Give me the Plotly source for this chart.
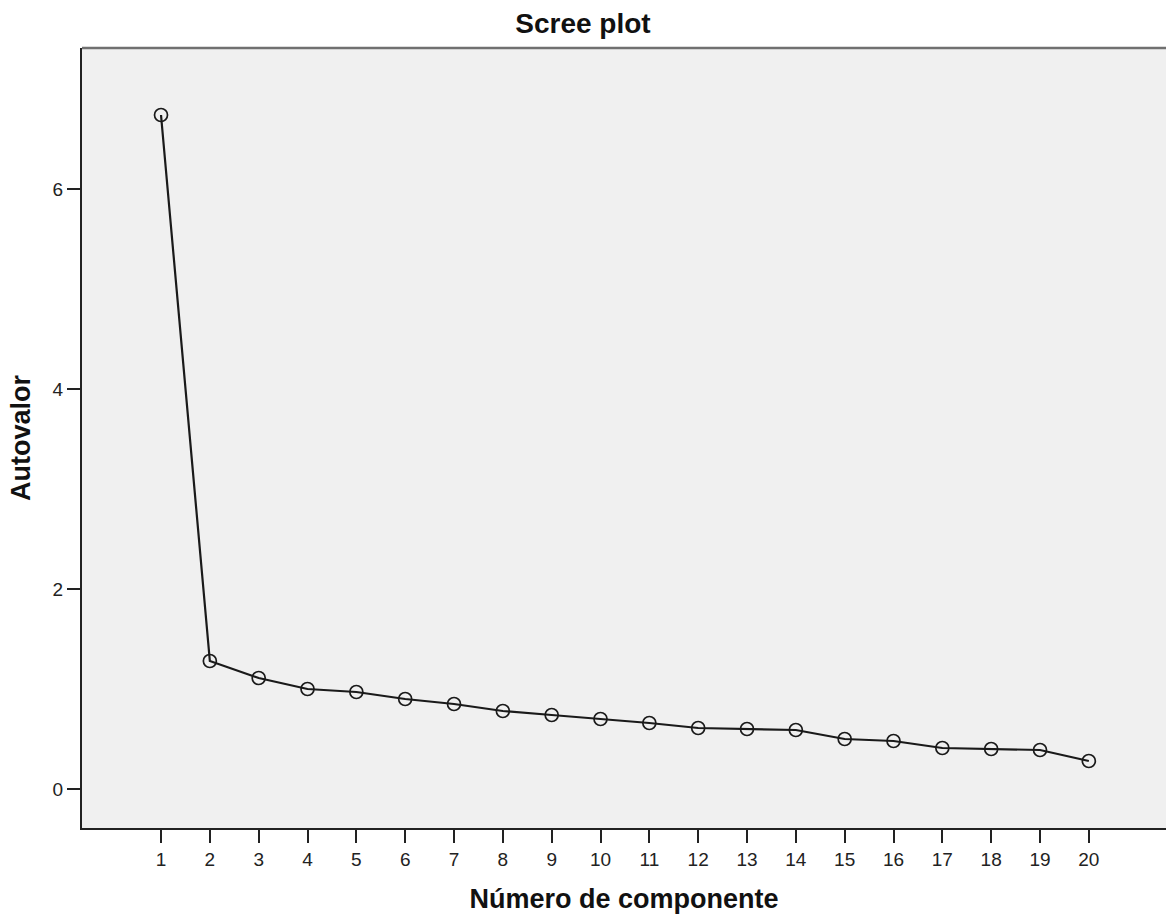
import plotly.graph_objects as go

componentes = list(range(1, 21))
autovalores = [6.74, 1.28, 1.11, 1.00, 0.97, 0.90, 0.85, 0.78, 0.74, 0.70,
               0.66, 0.61, 0.60, 0.59, 0.50, 0.48, 0.41, 0.40, 0.39, 0.28]
x_ticks = componentes
y_ticks = [0, 2, 4, 6]

W, H = 1166, 919
fig = go.Figure()
fig.add_trace(go.Scatter(
    x=componentes, y=autovalores, mode="lines+markers",
    line=dict(color="#1a1a1a", width=2.2),
    marker=dict(symbol="circle-open", size=13, color="#1a1a1a", line=dict(width=1.7)),
    showlegend=False, hoverinfo="x+y",
))

fig.update_layout(
    width=W, height=H,
    margin=dict(l=82, r=0, t=48, b=91),
    paper_bgcolor="white", plot_bgcolor="#F0F0F0",
    font=dict(family="Liberation Sans, Arial, sans-serif", color="#1a1a1a"),
    title=dict(text="<b>Scree plot</b>", x=0.5, xanchor="center", xref="container",
               y=1 - 23 / H, yref="container", yanchor="middle",
               font=dict(size=28, color="#111")),
    xaxis=dict(range=[-0.618, 21.58], tickmode="array", tickvals=x_ticks,
               ticktext=[str(v) for v in x_ticks], showgrid=False, zeroline=False,
               showline=True, linecolor="#222", linewidth=2,
               ticks="outside", ticklen=13, tickwidth=2, tickcolor="#222",
               tickfont=dict(size=19, color="#222"),
               title=dict(text="<b>Número de componente</b>", font=dict(size=27, color="#111"), standoff=20)),
    yaxis=dict(range=[-0.39, 7.41], tickmode="array", tickvals=y_ticks,
               ticktext=[str(v) for v in y_ticks], showgrid=False, zeroline=False,
               showline=True, linecolor="#222", linewidth=2,
               ticks="outside", ticklen=13, tickwidth=2, tickcolor="#222",
               tickfont=dict(size=19, color="#222"),
               title=dict(text="<b>Autovalor</b>", font=dict(size=27, color="#111"), standoff=14)),
    shapes=[dict(type="line", xref="paper", yref="paper", x0=0, x1=1, y0=1, y1=1,
                 line=dict(color="#707070", width=2.5))],
)

fig.write_html("out.html")
